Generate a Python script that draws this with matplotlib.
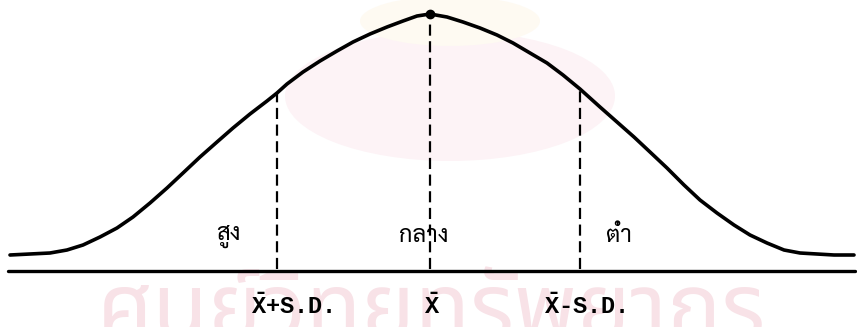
import matplotlib
matplotlib.use("Agg")
import matplotlib.pyplot as plt
from matplotlib import font_manager
from matplotlib.patches import Ellipse

# curve (x in px, height above the base line in px)
curve_x = [10, 30, 50, 67, 83, 100, 117, 133, 150, 167, 183, 200, 217, 233, 250, 267,
           277, 287, 303, 320, 337, 353, 370, 387, 403, 417, 430, 447, 463, 480, 497,
           513, 530, 547, 563, 580, 600, 617, 634, 650, 667, 684, 700, 717, 734, 750,
           767, 784, 800, 834, 854]
curve_h = [16, 17, 18, 21, 26, 34, 43, 54, 68, 83, 98, 114, 129, 143, 157, 170,
           178, 187, 199, 210, 220, 229, 237, 244, 250, 255, 257, 254, 249, 243, 236,
           228, 218, 208, 196, 182, 164, 149, 134, 119, 103, 86, 71, 58, 46, 36,
           28, 21, 18, 16, 16]

# the three marked points: mean + S.D., mean, mean - S.D.
mark_x = [277, 430, 580]
mark_h = [178, 257, 182]
mark_labels = [r"$\bar{\mathrm{X}}$+S.D.", r"$\bar{\mathrm{X}}$", r"$\bar{\mathrm{X}}$-S.D."]
mark_label_x = [292, 432, 585]

# group names under the curve
group_labels = ["สูง", "กลาง", "ต่ำ"]
group_x = [228, 424, 619]

watermark = "ศูนย์วิทยทรัพยากร"

available = {f.name for f in font_manager.fontManager.ttflist}
thai_pref = ["Tlwg Typewriter", "TlwgTypewriter", "Tlwg Mono", "Norasi", "Sarabun",
             "Taviraj", "Noto Sans Thai", "Loma", "Garuda", "Noto Serif Thai"]
thai_font = next((f for f in thai_pref if f in available), "DejaVu Sans")
wm_pref = ["Noto Sans Thai", "Sarabun", "Kanit", "Prompt", "Loma", "Garuda"]
wm_font = next((f for f in wm_pref if f in available), thai_font)
mono = ["Liberation Mono", "DejaVu Sans Mono"]

plt.rcParams["mathtext.fontset"] = "custom"
plt.rcParams["mathtext.rm"] = "Liberation Mono:bold"
plt.rcParams["mathtext.it"] = "Liberation Mono:bold"
plt.rcParams["mathtext.bf"] = "Liberation Mono:bold"

fig = plt.figure(figsize=(8.57, 3.27), dpi=100)
ax = fig.add_axes([0, 0, 1, 1])
ax.set_xlim(0, 857)
ax.set_ylim(-56, 271)
ax.axis("off")

# faint library watermark (logo blob + name)
ax.add_patch(Ellipse((450, 175), 330, 130, color="#fdf3f6", zorder=0, lw=0))
ax.add_patch(Ellipse((450, 250), 180, 50, color="#fefaf2", zorder=0, lw=0))
ax.text(97, -67, watermark, family=[wm_font, "DejaVu Sans"], fontsize=65,
        fontweight="bold", color="#f8e2e7", ha="left", va="baseline", zorder=0)

# base line and curve
ax.plot([8, 855], [0, 0], color="black", lw=2.4, solid_capstyle="round", zorder=3)
ax.plot(curve_x, curve_h, color="black", lw=2.6, solid_joinstyle="round",
        solid_capstyle="round", zorder=3)
ax.plot([430], [257], "o", color="black", ms=6, zorder=4)

# dashed verticals
for x, h in zip(mark_x, mark_h):
    ax.plot([x, x], [2, h], color="black", lw=1.6, dashes=(5, 2.5), zorder=2)

for x, s in zip(mark_label_x, mark_labels):
    ax.text(x, -35, s, family=mono, fontsize=17, fontweight="bold",
            ha="center", va="center", zorder=5)

for x, s in zip(group_x, group_labels):
    ax.text(x, 35, s, family=[thai_font, "DejaVu Sans"], fontsize=17,
            ha="center", va="center", zorder=5)

fig.savefig("out.png", dpi=100)
